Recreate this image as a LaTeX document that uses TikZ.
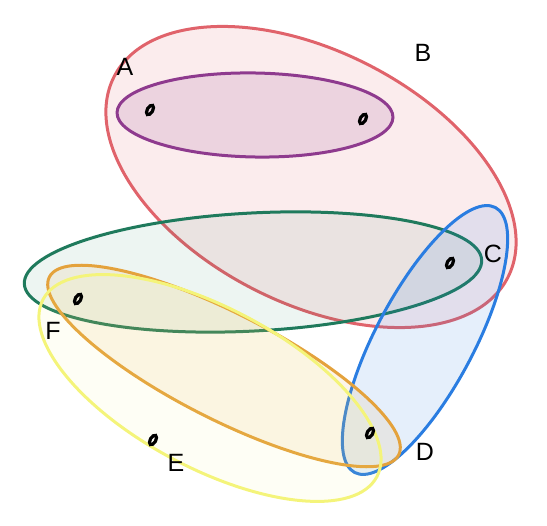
\documentclass[tikz,border=0pt]{standalone}
\usepackage{fontspec}
\setmainfont{Liberation Sans}
\usetikzlibrary{shapes.geometric}

\definecolor{colA}{HTML}{8E3A8E}
\definecolor{colB}{HTML}{E0636B}
\definecolor{colC}{HTML}{1F7A5C}
\definecolor{colD}{HTML}{2A7DE1}
\definecolor{colE}{HTML}{F4F47A}
\definecolor{colF}{HTML}{E4A23C}

\begin{document}
\begin{tikzpicture}
  [x=1pt,y=-1pt,
   vertN/.style={ellipse,draw,line width=3.2pt,minimum width=5.5pt,
                 minimum height=10.5pt,inner sep=0pt,rotate=-30},
   labelN/.style={font=\fontsize{25}{25}\selectfont,inner sep=0pt},
   hyperE/.style={line width=3pt,fill opacity=0.12}]

  \useasboundingbox (0,0) rectangle (547,526);

  \coordinate (cA) at (255,115);
  \coordinate (cB) at (311,177);
  \coordinate (cC) at (253,272);
  \coordinate (cD) at (425,340);
  \coordinate (cF) at (224,366);
  \coordinate (cE) at (210,388);

  \draw [hyperE,draw=colB,fill=colB,rotate around={-27:(cB)}]
    (cB) ellipse [x radius=221,y radius=126];
  \draw [hyperE,draw=colA,fill=colA,fill opacity=0.14,rotate around={-1:(cA)}]
    (cA) ellipse [x radius=138,y radius=42];
  \draw [hyperE,draw=colC,fill=colC,fill opacity=0.08,rotate around={3:(cC)}]
    (cC) ellipse [x radius=229,y radius=59];
  \draw [hyperE,draw=colD,fill=colD,fill opacity=0.12,rotate around={62:(cD)}]
    (cD) ellipse [x radius=150,y radius=49];
  \draw [hyperE,draw=colF,fill=colF,fill opacity=0.11,rotate around={-27:(cF)}]
    (cF) ellipse [x radius=196,y radius=53];
  \draw [hyperE,draw=colE,fill=colE,fill opacity=0.08,rotate around={-28:(cE)}]
    (cE) ellipse [x radius=189,y radius=80];

  \node[vertN] (vA1) at (150,110) {};
  \node[vertN] (vA2) at (363,119) {};
  \node[vertN] (vC)  at (450,263) {};
  \node[vertN] (vF)  at (78,299)  {};
  \node[vertN] (vE)  at (153,440) {};
  \node[vertN] (vD)  at (370,433) {};

  \node[labelN] (lA) at (125,67)  {A};
  \node[labelN] (lB) at (423,53)  {B};
  \node[labelN] (lC) at (493,254) {C};
  \node[labelN] (lD) at (425,452) {D};
  \node[labelN] (lE) at (176,463) {E};
  \node[labelN] (lF) at (53,331)  {F};
\end{tikzpicture}
\end{document}
